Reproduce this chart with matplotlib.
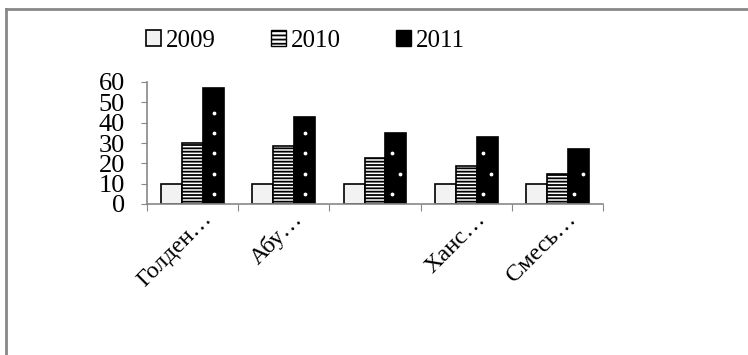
import matplotlib
matplotlib.use("Agg")
from matplotlib import pyplot as plt
from matplotlib.lines import Line2D
from matplotlib.patches import Patch
import matplotlib.transforms as mtransforms
import numpy as np

plt.rcParams['font.family'] = ['Liberation Serif', 'DejaVu Serif']
plt.rcParams['hatch.linewidth'] = 1.3

# данные
categories = ["Голден…", "Абу…", "", "Ханс…", "Смесь…"]
years = ["2009", "2010", "2011"]
v2009 = [10, 10, 10, 10, 10]
v2010 = [30, 28.5, 22.5, 18.5, 15]
v2011 = [57, 43, 35, 33, 27]
yticks = [0, 10, 20, 30, 40, 50, 60]

fig = plt.figure(figsize=(7.48, 3.55), dpi=100)
ax = fig.add_axes([147 / 748, 1 - 204 / 355, 456 / 748, 122 / 355])

x = np.arange(len(categories))
w = 0.23

b1 = ax.bar(x - w, v2009, w, facecolor='#f2f2f2', edgecolor='black', linewidth=1.2)
b2 = ax.bar(x, v2010, w, facecolor='white', edgecolor='black', linewidth=1.2, hatch='-----')
b3 = ax.bar(x + w, v2011, w, facecolor='black', edgecolor='black', linewidth=1.2)

# белые точки на чёрных столбцах
for i, h in enumerate(v2011):
    levels = np.arange(5, h - 4, 10)
    offs = np.where(np.arange(len(levels)) % 2 == 0, -0.2, 0.2) * w
    if i < 2:
        offs = offs * 0
    ax.scatter(x[i] + w + offs, levels, s=3, color='white', zorder=5)

ax.set_xlim(-0.5, len(categories) - 0.5)
ax.set_ylim(0, 60)
ax.set_yticks(yticks)
ax.set_yticklabels([str(t) for t in yticks], fontsize=19)
ax.set_xticks(np.arange(len(categories) + 1) - 0.5)
ax.set_xticklabels([])
ax.tick_params(axis='y', length=4, color='#888888', pad=12)
ax.tick_params(axis='x', length=5, color='#888888')
for s in ['top', 'right']:
    ax.spines[s].set_visible(False)
for s in ['left', 'bottom']:
    ax.spines[s].set_color('#888888')
    ax.spines[s].set_linewidth(1.2)

# подписи категорий под углом
off = mtransforms.ScaledTranslation(16 / 100, -12 / 100, fig.dpi_scale_trans)
for i, name in enumerate(categories):
    ax.text(x[i], 0, name, rotation=45, ha='right', va='center', rotation_mode='anchor',
            fontsize=17.5, transform=ax.transData + off, clip_on=False)

handles = [Patch(facecolor='#f2f2f2', edgecolor='black', linewidth=1.2),
           Patch(facecolor='white', edgecolor='black', linewidth=1.0, hatch='----'),
           Patch(facecolor='black', edgecolor='black')]
fig.legend(handles, years, loc='center left', bbox_to_anchor=(136 / 748, 1 - 41 / 355),
           ncol=3, frameon=False, fontsize=18, handlelength=0.6, handleheight=0.6,
           handletextpad=0.2, columnspacing=2.2, borderaxespad=0)

# рамка
fig.add_artist(Line2D([6 / 748, 1], [1 - 9 / 355, 1 - 9 / 355], transform=fig.transFigure,
                      color='#888888', linewidth=2))
fig.add_artist(Line2D([6 / 748, 6 / 748], [0, 1 - 9 / 355], transform=fig.transFigure,
                      color='#888888', linewidth=2))

fig.savefig("out.png", dpi=100)
